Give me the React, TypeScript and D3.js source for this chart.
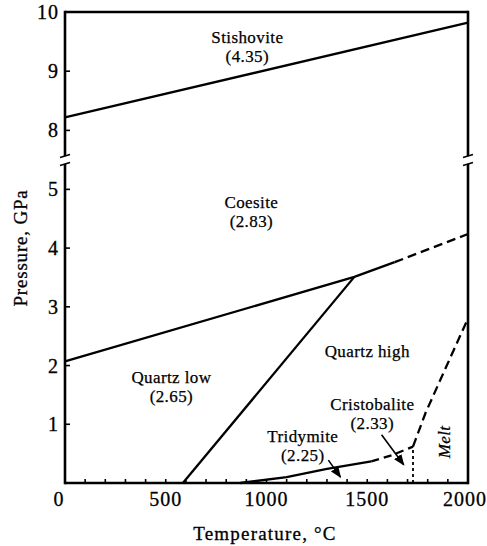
import React from "react";
import * as d3 from "d3";

// Phase diagram of SiO2: temperature (°C) vs pressure (GPa), broken pressure axis.
const T_TICKS = [0, 500, 1000, 1500, 2000];
const T_MINOR = d3.range(0, 2001, 100);
const P_TICKS = [1, 2, 3, 4, 5, 8, 9, 10];

type Pt = [number, number];

const stishoviteCoesite: Pt[] = [[0, 8.22], [2000, 9.82]];
const coesiteQuartzSolid: Pt[] = [[0, 2.07], [1436, 3.51], [1636, 3.76]];
const coesiteQuartzDashed: Pt[] = [[1636, 3.76], [2000, 4.24]];
const quartzLowHigh: Pt[] = [[585, 0], [1436, 3.51]];
const tridymiteSolid: Pt[] = [[870, 0], [1100, 0.1], [1300, 0.24], [1520, 0.37]];
const tridymiteDashed: Pt[] = [[1520, 0.37], [1620, 0.47], [1727, 0.62]];
const meltCurve: Pt[] = [[1727, 0.62], [1790, 1.2], [1930, 2.27], [2000, 2.8]];
const cristobaliteMelt: Pt[] = [[1727, 0], [1727, 0.62]];
const tridymiteLeader: Pt[] = [[1307, 0.39], [1367, 0.1]];
const cristobaliteLeader: Pt[] = [[1571, 0.82], [1681, 0.31]];

const phaseLabels = [
  { name: "Stishovite", density: "(4.35)", T: 905, P: 9.48 },
  { name: "Coesite", density: "(2.83)", T: 925, P: 4.68 },
  { name: "Quartz low", density: "(2.65)", T: 528, P: 1.7 },
  { name: "Quartz high", density: "", T: 1500, P: 2.15 },
  { name: "Cristobalite", density: "(2.33)", T: 1525, P: 1.24 },
  { name: "Tridymite", density: "(2.25)", T: 1180, P: 0.7 },
];

const W = 487;
const H = 546;
const left = 65;
const right = 468;
const top = 12;
const bottom = 483;
const breakY = 160;

const FONT = "'Liberation Serif', 'Times New Roman', Times, serif";

export default function App() {
  const x = d3.scaleLinear().domain([0, 2000]).range([left, right]);
  // piecewise pressure scale: 0–5.5 below the break, 7.5–10 above it
  const y = d3
    .scaleLinear()
    .domain([0, 5.5, 7.5, 10])
    .range([bottom, breakY, breakY, top]);

  const line = d3
    .line<Pt>()
    .x((d) => x(d[0]))
    .y((d) => y(d[1]));

  const gap = 4;

  const breakMarks = (cx: number) => (
    <g key={"brk" + cx}>
      <rect x={cx - 6} y={breakY - gap} width={12} height={gap * 2} fill="#fff" />
      <line x1={cx - 5} y1={breakY - gap + 1.5} x2={cx + 5} y2={breakY - gap - 1.5} stroke="#000" strokeWidth={1.6} />
      <line x1={cx - 5} y1={breakY + gap + 1.5} x2={cx + 5} y2={breakY + gap - 1.5} stroke="#000" strokeWidth={1.6} />
    </g>
  );

  const txt: React.CSSProperties = { fontFamily: FONT };
  const xLabelShift = (t: number) => (t === 0 ? -6 : t === 2000 ? -3 : 0);

  return (
    <svg width={W} height={H} style={{ display: "block", position: "absolute", left: 0, top: 0 }}>
      <defs>
        <marker id="arrow" viewBox="0 0 10 10" refX="9" refY="5" markerWidth="7" markerHeight="7" orient="auto">
          <path d="M0,1 L10,5 L0,9 z" fill="#000" />
        </marker>
      </defs>
      <rect width={W} height={H} fill="#fff" />

      {/* phase boundaries */}
      <g fill="none" stroke="#000" strokeWidth={2.3}>
        <path d={line(stishoviteCoesite)!} />
        <path d={line(coesiteQuartzSolid)!} />
        <path d={line(coesiteQuartzDashed)!} strokeDasharray="9 5" />
        <path d={line(quartzLowHigh)!} />
        <path d={line(tridymiteSolid)!} />
        <path d={line(tridymiteDashed)!} strokeDasharray="8 5" />
        <path d={line(meltCurve)!} strokeDasharray="9 5" />
        <path d={line(cristobaliteMelt)!} strokeDasharray="3 3" strokeWidth={1.8} />
        <path d={line(tridymiteLeader)!} strokeWidth={1.6} markerEnd="url(#arrow)" />
        <path d={line(cristobaliteLeader)!} strokeWidth={1.6} markerEnd="url(#arrow)" />
      </g>

      {/* frame */}
      <g stroke="#000" strokeWidth={2.6} fill="none">
        <line x1={left} y1={top} x2={right} y2={top} />
        <line x1={left} y1={top - 1.3} x2={left} y2={bottom + 1.3} />
        <line x1={right} y1={top - 1.3} x2={right} y2={bottom + 1.3} />
        <line x1={left} y1={bottom} x2={right} y2={bottom} />
      </g>
      {breakMarks(left)}
      {breakMarks(right)}

      {/* x ticks */}
      <g stroke="#000" strokeWidth={1.6}>
        {T_MINOR.filter((t) => t > 0 && t < 2000).map((t) => (
          <line key={t} x1={x(t)} x2={x(t)} y1={bottom} y2={bottom - 4} />
        ))}
      </g>
      <g fontSize={20} textAnchor="middle" style={{ ...txt, letterSpacing: "1px" }} stroke="#000" strokeWidth={0.3}>
        {T_TICKS.map((t) => (
          <text key={t} x={x(t) + xLabelShift(t)} y={506}>
            {t}
          </text>
        ))}
      </g>

      {/* y ticks */}
      <g stroke="#000" strokeWidth={1.6}>
        {P_TICKS.map((p) => (
          <line key={p} x1={left} x2={left + 5} y1={y(p)} y2={y(p)} />
        ))}
      </g>
      <g fontSize={20} textAnchor="end" style={{ ...txt, letterSpacing: "1px" }} stroke="#000" strokeWidth={0.3}>
        {P_TICKS.map((p) => (
          <text key={p} x={59} y={y(p)} dy="0.35em">
            {p}
          </text>
        ))}
      </g>

      {/* axis titles */}
      <g style={txt} fontSize={19} stroke="#000" strokeWidth={0.3}>
        <text x={265} y={540} textAnchor="middle" style={{ ...txt, letterSpacing: "1.2px" }}>
          Temperature, °C
        </text>
        <text transform={`translate(27, 248) rotate(-90)`} textAnchor="middle" style={{ ...txt, letterSpacing: "0.8px" }}>
          Pressure, GPa
        </text>
      </g>

      {/* phase labels */}
      <g fontSize={17} textAnchor="middle" style={{ ...txt, letterSpacing: "0.4px" }} stroke="#000" strokeWidth={0.25}>
        {phaseLabels.map((d) => (
          <g key={d.name}>
            <text x={x(d.T)} y={y(d.P)}>{d.name}</text>
            {d.density && (
              <text x={x(d.T)} y={y(d.P) + 19}>
                {d.density}
              </text>
            )}
          </g>
        ))}
        <text transform={`translate(${x(1880)}, ${y(0.7)}) rotate(-90)`} fontStyle="italic" dy="0.35em">
          Melt
        </text>
      </g>
    </svg>
  );
}
